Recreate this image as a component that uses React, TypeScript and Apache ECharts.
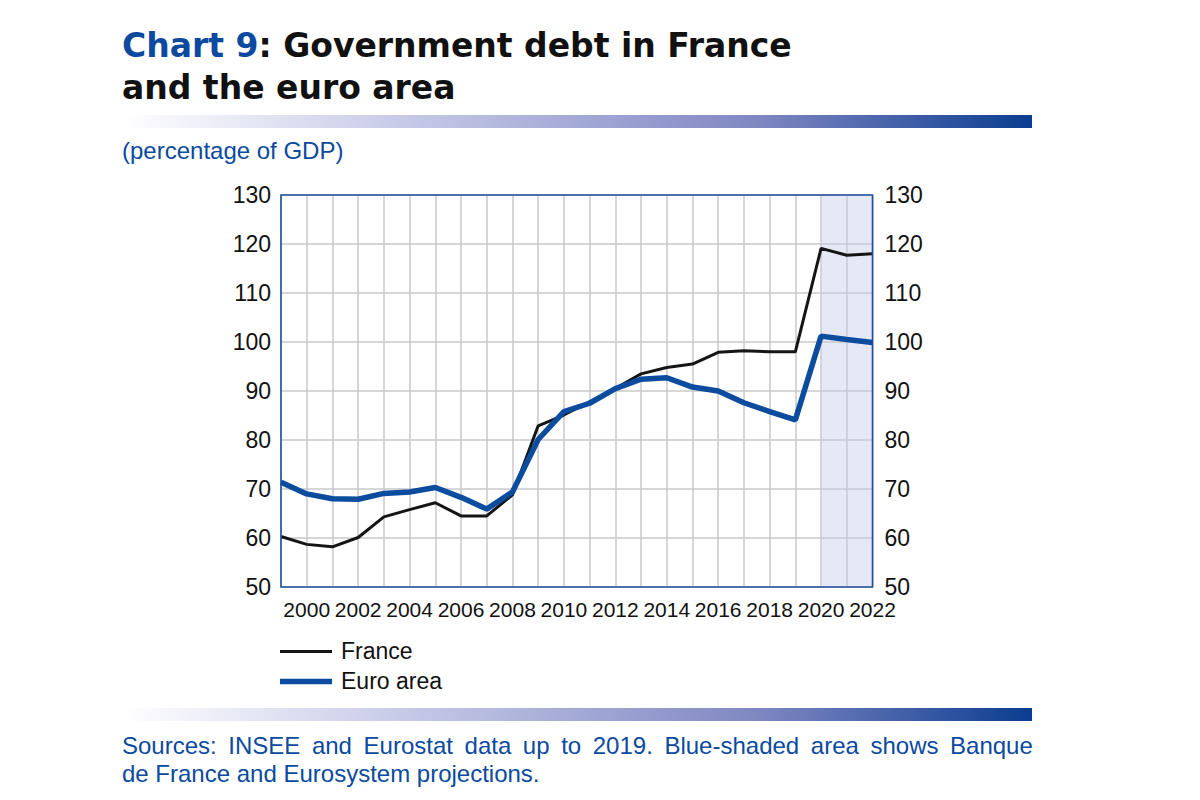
import React, { useEffect, useRef } from "react";
import * as echarts from "echarts";

const years = ["1999","2000","2001","2002","2003","2004","2005","2006","2007","2008","2009","2010","2011","2012","2013","2014","2015","2016","2017","2018","2019","2020","2021","2022"];
const france = [60.3, 58.7, 58.2, 60.1, 64.3, 65.8, 67.2, 64.5, 64.5, 68.8, 82.9, 85.1, 87.8, 90.5, 93.5, 94.8, 95.5, 97.9, 98.2, 98.0, 98.0, 119.1, 117.7, 118.0];
const euroArea = [71.4, 69.0, 68.0, 67.9, 69.1, 69.4, 70.3, 68.3, 65.9, 69.4, 80.1, 85.8, 87.5, 90.5, 92.4, 92.7, 90.8, 90.0, 87.6, 85.8, 84.1, 101.2, 100.5, 99.9];
const projectionRange = ["2020", "2022"];
const yMin = 50;
const yMax = 130;
const yStep = 10;

const FONT = "'Liberation Sans', Arial, sans-serif";
const BLUE = "#0b4a9e";
const FR_COLOR = "#151515";
const EA_COLOR = "#0b4c9f";

const footerLine1 = "Sources: INSEE and Eurostat data up to 2019. Blue-shaded area shows Banque";
const footerLine2 = "de France and Eurosystem projections.";

export default function App() {
  const ref = useRef<HTMLDivElement>(null);
  useEffect(() => {
    if (!ref.current) return;
    const chart = echarts.init(ref.current, undefined, { renderer: "svg" });
    const grad = () =>
      new echarts.graphic.LinearGradient(0, 0, 1, 0, [
        { offset: 0, color: "#ffffff" },
        { offset: 0.35, color: "#bfc3e4" },
        { offset: 0.7, color: "#7f87c2" },
        { offset: 1, color: "#0a3d90" },
      ]);
    const yAxisCommon = {
      type: "value" as const,
      min: yMin,
      max: yMax,
      interval: yStep,
      axisLine: { show: false },
      axisTick: { show: false },
    };
    const gridBox = { left: 281, top: 195, width: 591.5, height: 392 };
    const justified = footerLine1.split(" ").join("{s| }");
    chart.setOption({
      animation: false,
      backgroundColor: "#ffffff",
      textStyle: { fontFamily: FONT },
      grid: { ...gridBox, show: false },
      xAxis: {
        type: "category",
        data: years,
        boundaryGap: false,
        axisLine: { show: false },
        axisTick: { show: false },
        axisLabel: {
          interval: (i: number, v: string) => Number(v) % 2 === 0,
          fontFamily: FONT,
          fontSize: 21,
          color: "#111",
          margin: 12,
        },
        splitLine: { show: true, interval: 0, lineStyle: { color: "#c9c9c9", width: 1.5 } },
      },
      yAxis: [
        {
          ...yAxisCommon,
          position: "left",
          axisLabel: { fontFamily: FONT, fontSize: 23, color: "#111", margin: 10 },
          splitLine: { show: true, lineStyle: { color: "#c9c9c9", width: 1.5 } },
        },
        {
          ...yAxisCommon,
          position: "right",
          axisLabel: { fontFamily: FONT, fontSize: 23, color: "#111", margin: 12 },
          splitLine: { show: false },
        },
      ],
      series: [
        {
          name: "France",
          type: "line",
          data: france,
          symbol: "none",
          z: 3,
          lineStyle: { color: FR_COLOR, width: 3 },
          itemStyle: { color: FR_COLOR },
          markArea: {
            silent: true,
            itemStyle: { color: "rgba(200,204,234,0.45)" },
            data: [[{ xAxis: projectionRange[0] }, { xAxis: projectionRange[1] }]],
          },
        },
        {
          name: "Euro area",
          type: "line",
          data: euroArea,
          symbol: "none",
          z: 4,
          lineStyle: { color: EA_COLOR, width: 5.5 },
          itemStyle: { color: EA_COLOR },
        },
      ],
      graphic: [
        {
          type: "rect",
          shape: { x: gridBox.left, y: gridBox.top, width: gridBox.width, height: gridBox.height },
          style: { fill: "none", stroke: "#1f4f9f", lineWidth: 1.6 },
          z: 10,
          silent: true,
        },
        {
          type: "text",
          left: 122,
          top: 29,
          style: {
            text: "{a|Chart 9}{b|: Government debt in France}",
            rich: {
              a: { fontFamily: "'DejaVu Sans', sans-serif", fontWeight: "bold", fontSize: 33, fill: BLUE },
              b: { fontFamily: "'DejaVu Sans', sans-serif", fontWeight: "bold", fontSize: 33, fill: "#111" },
            },
          },
        },
        {
          type: "text",
          left: 122,
          top: 71,
          style: {
            text: "and the euro area",
            fontFamily: "'DejaVu Sans', sans-serif",
            fontWeight: "bold",
            fontSize: 33,
            fill: "#111",
          },
        },
        { type: "rect", left: 122, top: 115, shape: { width: 910, height: 13 }, style: { fill: grad() } },
        {
          type: "text",
          left: 122,
          top: 138,
          style: { text: "(percentage of GDP)", fontFamily: FONT, fontSize: 24, fill: BLUE },
        },
        { type: "line", shape: { x1: 280, y1: 651.5, x2: 332, y2: 651.5 }, style: { stroke: FR_COLOR, lineWidth: 3 } },
        {
          type: "text",
          x: 341,
          y: 651,
          style: { text: "France", fontFamily: FONT, fontSize: 23, fill: "#111", verticalAlign: "middle", align: "left" },
        },
        { type: "line", shape: { x1: 280, y1: 681.5, x2: 332, y2: 681.5 }, style: { stroke: EA_COLOR, lineWidth: 5.5 } },
        {
          type: "text",
          x: 341,
          y: 681,
          style: { text: "Euro area", fontFamily: FONT, fontSize: 23, fill: "#111", verticalAlign: "middle", align: "left" },
        },
        { type: "rect", left: 122, top: 708, shape: { width: 910, height: 13 }, style: { fill: grad() } },
        {
          type: "text",
          left: 122,
          top: 733,
          style: {
            text: justified,
            fontFamily: FONT,
            fontSize: 24,
            fill: BLUE,
            rich: { s: { width: 11.6, fontSize: 24, fontFamily: FONT, fill: BLUE } },
          },
        },
        {
          type: "text",
          left: 122,
          top: 761,
          style: {
            text: footerLine2,
            fontFamily: FONT,
            fontSize: 24,
            fill: BLUE,
          },
        },
      ],
    });
    return () => chart.dispose();
  }, []);
  return <div ref={ref} style={{ position: "fixed", left: 0, top: 0, width: 1200, height: 800, background: "#fff" }} />;
}
